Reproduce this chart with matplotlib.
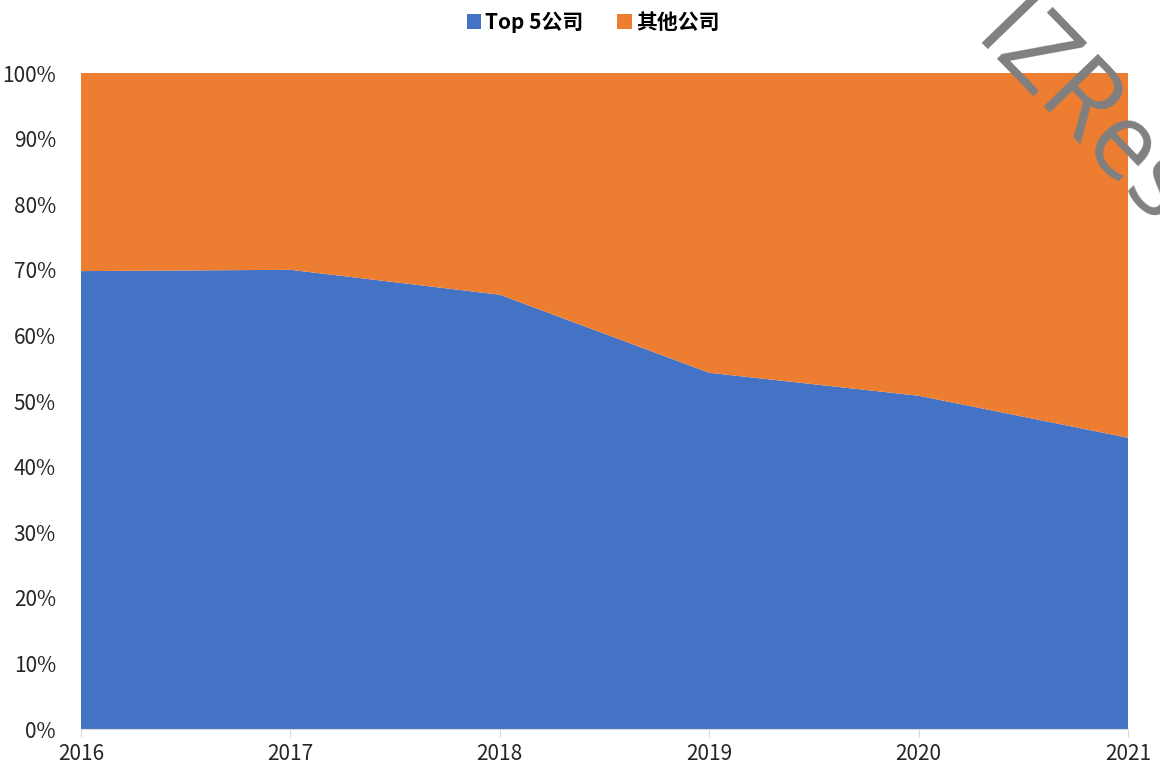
import matplotlib
matplotlib.use("Agg")
import matplotlib.pyplot as plt
from matplotlib.ticker import PercentFormatter
from matplotlib.patches import Patch

years = [2016, 2017, 2018, 2019, 2020, 2021]
top5 = [69.8, 70.0, 66.2, 54.3, 50.8, 44.4]
others = [100 - v for v in top5]
labels = ["Top 5公司", "其他公司"]
colors = ["#4472C4", "#ED7D31"]

plt.rcParams['font.family'] = ['Noto Sans CJK SC', 'DejaVu Sans']

fig = plt.figure(figsize=(11.6, 7.7), dpi=100)
ax = fig.add_axes([81/1160, 1-729/770, (1128-81)/1160, (729-73)/770])
ax.stackplot(years, top5, others, colors=colors, linewidth=0)
ax.set_xlim(years[0], years[-1])
ax.set_ylim(0, 100)
ax.set_xticks(years)
ax.set_xticklabels([str(y) for y in years])
ax.set_yticks(range(0, 101, 10))
ax.yaxis.set_major_formatter(PercentFormatter(decimals=0))
for s in ['top', 'right', 'left']:
    ax.spines[s].set_visible(False)
ax.spines['bottom'].set_color('#d9d9d9')
ax.tick_params(axis='y', length=0, pad=18, labelsize=15, labelcolor='#262626')
ax.tick_params(axis='x', length=6, color='#d9d9d9', pad=4, labelsize=15, labelcolor='#262626')

handles = [Patch(facecolor=c, edgecolor='none') for c in colors]
leg = fig.legend(handles, labels, loc='center', bbox_to_anchor=(593/1160, 1-22/770), ncol=2,
                 frameon=False, handlelength=0.7, handleheight=0.7, handletextpad=0.2,
                 columnspacing=1.6, prop={'weight': 'bold', 'size': 15})

fig.text(970/1160, 1-42/770, "IZRes", rotation=-46, rotation_mode='anchor',
         ha='left', va='baseline', fontsize=76, color='#808080',
         family=['Open Sans', 'DejaVu Sans'], fontweight='normal')

fig.savefig("out.png", dpi=100)
